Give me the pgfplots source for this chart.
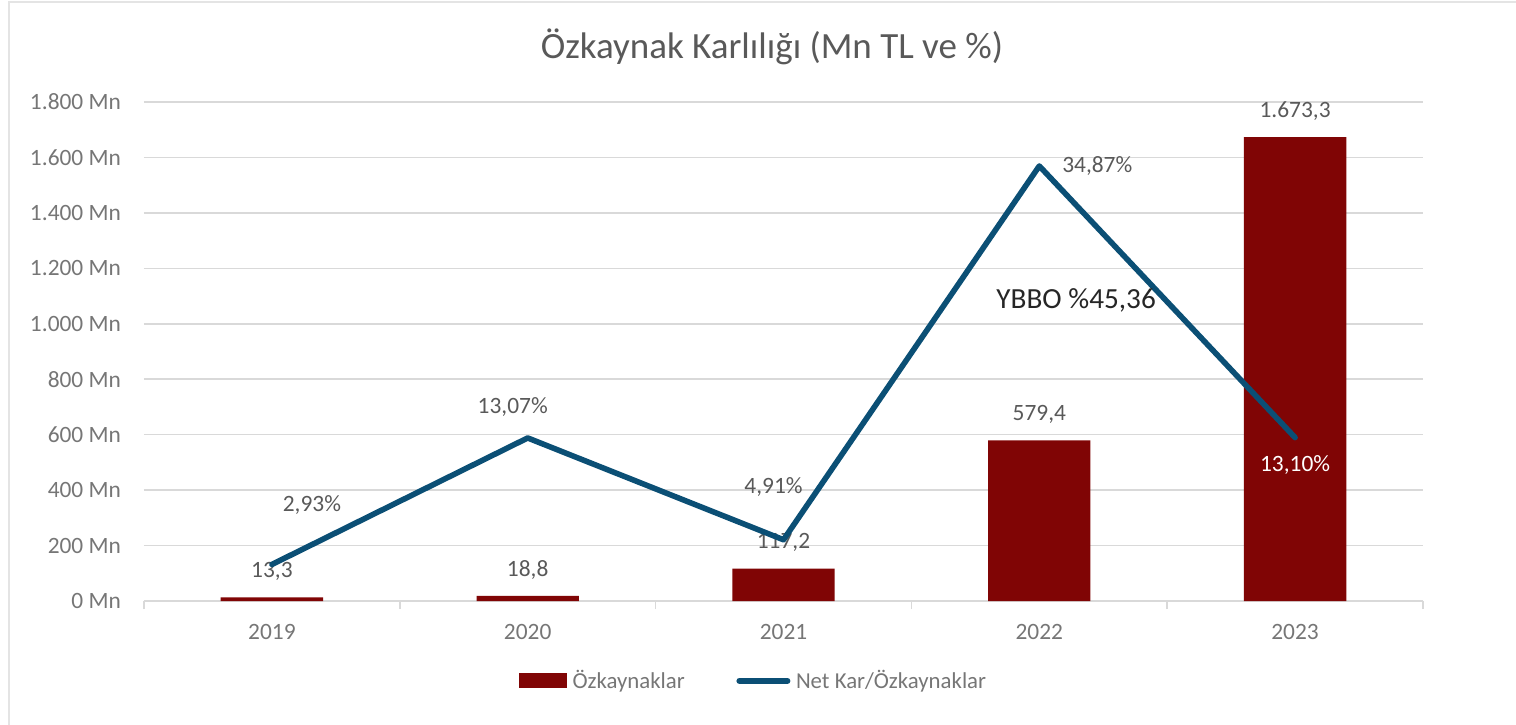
\documentclass[border=0pt]{standalone}
\usepackage{fontspec}
\setmainfont{Carlito}
\usepackage{pgfplots}
\pgfplotsset{compat=1.18}
\definecolor{barred}{RGB}{128,5,5}
\definecolor{lineblue}{RGB}{11,79,117}
\definecolor{gridgray}{RGB}{217,217,217}
\definecolor{tickgray}{RGB}{118,118,118}
\definecolor{labgray}{RGB}{89,89,89}
\newcommand{\lf}{\fontsize{11.7}{14}\selectfont}
\begin{document}
\begin{tikzpicture}
\path[use as bounding box] (0pt,0pt) rectangle (758pt,362pt);
\draw[gridgray!70, line width=0.6pt] (4.5pt,-2pt) -- (4.5pt,361pt) -- (760pt,361pt);
\node[text=labgray, font=\fontsize{18.5}{22}\selectfont] at (386pt,338.5pt) {Özkaynak Karlılığı (Mn TL ve \%)};
\begin{axis}[
  at={(72pt,61.5pt)}, anchor=south west,
  scale only axis, width=639.5pt, height=249.5pt,
  xmin=-0.5, xmax=4.5, ymin=0, ymax=1800,
  xtick={0,1,2,3,4}, xticklabels={2019,2020,2021,2022,2023},
  minor xtick={-0.5,0.5,1.5,2.5,3.5,4.5},
  ytick={0,200,...,1800},
  yticklabels={0 Mn,200 Mn,400 Mn,600 Mn,800 Mn,1.000 Mn,1.200 Mn,1.400 Mn,1.600 Mn,1.800 Mn},
  major tick length=0pt, minor tick length=4pt, tick align=outside,
  minor tick style={gridgray, line width=0.75pt},
  axis x line*=bottom, axis y line*=left,
  x axis line style={gridgray, line width=0.75pt, -},
  y axis line style={draw=none},
  ymajorgrids, grid style={gridgray, line width=0.75pt},
  tick label style={text=tickgray, font=\lf},
  yticklabel style={xshift=-8pt},
  xticklabel style={yshift=-8pt},
  legend style={at={(0.478,-0.16)}, anchor=center, draw=none, fill=none,
    legend columns=2, font=\fontsize{11.4}{14}\selectfont, text=tickgray,
    nodes={inner sep=2.8pt},
    /tikz/every even column/.append style={column sep=23pt}},
  /pgf/number format/use comma,
  /pgf/number format/1000 sep={.},
  /pgf/number format/fixed,
  /pgf/number format/fixed zerofill,
  /pgf/number format/precision=1,
  /pgf/number format/assume math mode=true,
]
\addplot[ybar, bar width=0.4, fill=barred, draw=none,
  nodes near coords, point meta=y,
  every node near coord/.append style={anchor=center, yshift=13pt, text=labgray, font=\lf},
  legend image code/.code={\fill[barred] (0pt,-3.75pt) rectangle (24pt,3.75pt);}]
  coordinates {(0,13.3) (1,18.8) (2,117.2) (3,579.4) (4,1673.3)};
\addlegendentry{Özkaynaklar}
\addlegendimage{legend image code/.code={\draw[lineblue, line width=3pt, line cap=round] (1.5pt,0pt) -- (25.5pt,0pt);}}
\addlegendentry{Net Kar/Özkaynaklar}
\end{axis}
\begin{axis}[
  at={(72pt,61.5pt)}, anchor=south west,
  scale only axis, width=639.5pt, height=249.5pt,
  xmin=-0.5, xmax=4.5, ymin=0, ymax=40, hide axis, clip=false]
\addplot[lineblue, line width=2.8pt, line join=round, line cap=round]
  coordinates {(0,2.93) (1,13.07) (2,4.91) (3,34.87) (4,13.10)};
\node[text=labgray, font=\lf] at (axis cs:0,2.93) [xshift=20pt, yshift=29.5pt] {2,93\%};
\node[text=labgray, font=\lf] at (axis cs:1,13.07) [xshift=-7.5pt, yshift=15.5pt] {13,07\%};
\node[text=labgray, font=\lf] at (axis cs:2,4.91) [xshift=-5pt, yshift=26.5pt] {4,91\%};
\node[text=labgray, font=\lf] at (axis cs:3,34.87) [xshift=29pt, yshift=0pt] {34,87\%};
\node[text=white, font=\lf] at (axis cs:4,13.10) [yshift=-13.5pt] {13,10\%};
\node[text=black!85, font=\fontsize{14.6}{17}\selectfont] at (axis cs:3.144,24.13) {YBBO \%45,36};
\end{axis}
\end{tikzpicture}
\end{document}
